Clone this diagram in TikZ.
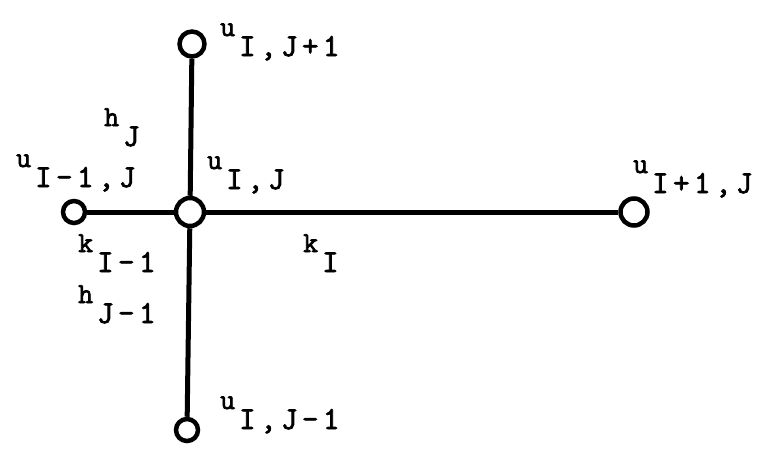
\documentclass[tikz,border=0pt]{standalone}
\usepackage{fontspec}
\newfontfamily\gridfont[LetterSpace=14, FakeBold=2.5]{Latin Modern Mono}
\newcommand{\gridlab}[2]{{\fontsize{29}{29}\selectfont #1}\hspace{4pt}\raisebox{-20pt}{#2}}

\begin{document}
\begin{tikzpicture}[x=1pt, y=-1pt]

    \tikzset{
        gridpt/.style={
            draw,
            circle,
            line width=4.5pt,
            fill=white,
            minimum size=25pt,
            inner sep=0pt
        },
        arm/.style={line width=5pt},
        lab/.style={
            anchor=base west,
            inner sep=0pt,
            font=\gridfont\fontsize{32}{32}\selectfont
        }
    }

    \useasboundingbox (0,0) rectangle (771,459);

    % uzly site
    \node[gridpt, minimum size=28pt] (c) at (190,212) {};
    \node[gridpt] (n) at (192,44) {};
    \node[gridpt, minimum size=22pt] (w) at (74,212) {};
    \node[gridpt, minimum size=27pt] (e) at (634,212) {};
    \node[gridpt, minimum size=22pt] (s) at (187,430) {};

    % ramena
    \draw[arm] (c) -- (n);
    \draw[arm] (c) -- (w);
    \draw[arm] (c) -- (e);
    \draw[arm] (c) -- (s);

    % popisky uzlu
    \node[lab] (lnorth) at (220,36)  {\gridlab{u}{I,J+1}};
    \node[lab] (lwest)  at (16,167)  {\gridlab{u}{I-1,J}};
    \node[lab] (lcent)  at (207,169) {\gridlab{u}{I,J}};
    \node[lab] (least)  at (633,173) {\gridlab{u}{I+1,J}};
    \node[lab] (lsouth) at (220,409) {\gridlab{u}{I,J-1}};

    % popisky kroku
    \node[lab] (lhj)   at (104,126) {\gridlab{h}{J}};
    \node[lab] (lhjm)  at (78,303)  {\gridlab{h}{J-1}};
    \node[lab] (lkim)  at (78,252)  {\gridlab{k}{I-1}};
    \node[lab] (lki)   at (303,252) {\gridlab{k}{I}};

\end{tikzpicture}
\end{document}
